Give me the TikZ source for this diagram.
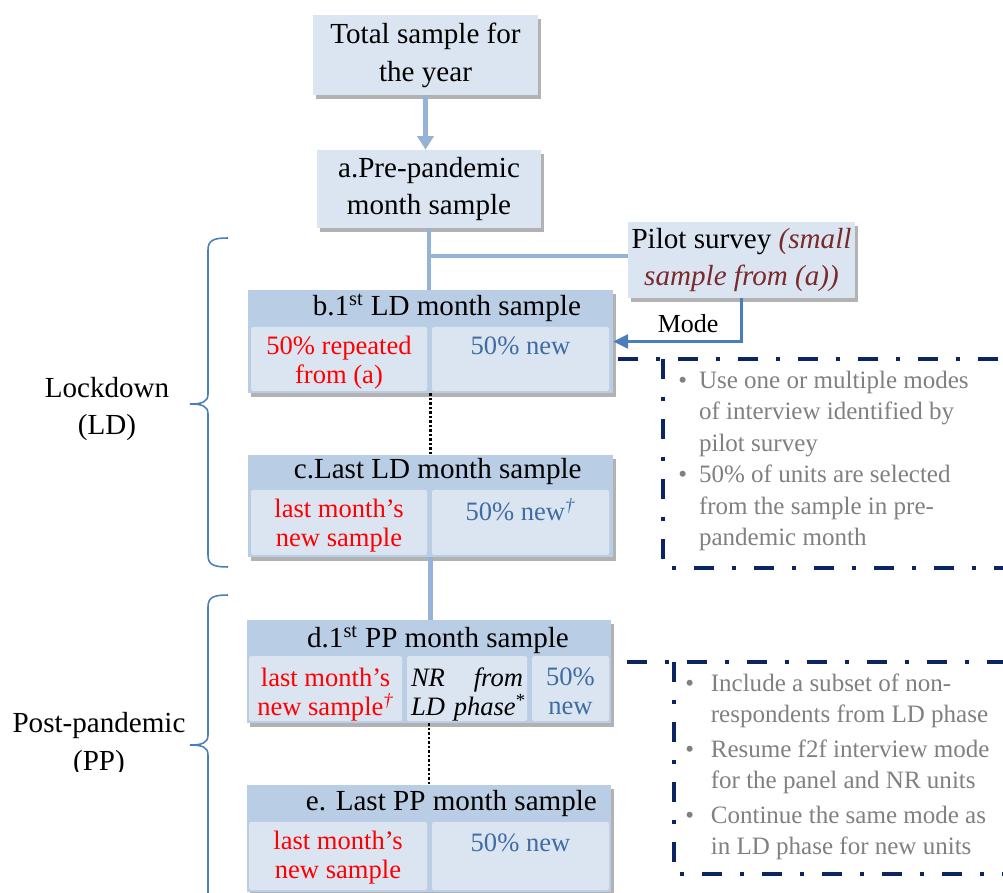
\documentclass[tikz,border=0pt]{standalone}
\usepackage{fontspec}
\setmainfont{Liberation Serif}
\usetikzlibrary{positioning,shadows,arrows.meta}
\definecolor{boxlight}{HTML}{DBE5F1}
\definecolor{boxband}{HTML}{B9CDE5}
\definecolor{linkblue}{HTML}{95B3D7}
\definecolor{modeblue}{HTML}{4A7EBB}
\definecolor{newblue}{HTML}{3F6CA3}
\definecolor{pilotred}{HTML}{7A2A2A}
\definecolor{noteblue}{HTML}{0C2461}
\definecolor{notegray}{HTML}{808080}

\begin{document}
\begin{tikzpicture}

    \tikzstyle{plainbox}=[fill=boxlight,draw=none,align=center,inner sep=0pt,font=\fontsize{20.7}{27}\selectfont,drop shadow={shadow xshift=0.07cm,shadow yshift=-0.09cm,opacity=0.3,fill=black}]
    \tikzstyle{panel}=[fill=boxband,draw=none,inner sep=0pt,minimum width=9.1cm,drop shadow={shadow xshift=0.07cm,shadow yshift=-0.09cm,opacity=0.3,fill=black}]
    \tikzstyle{cell}=[fill=boxlight,draw=none,rounded corners=1.5pt,inner sep=0pt,minimum height=1.6cm]
    \tikzstyle{paneltitle}=[inner sep=0pt,font=\fontsize{20.7}{27}\selectfont]
    \tikzstyle{celltext}=[inner sep=0pt,align=center,font=\fontsize{18.9}{20.6}\selectfont]
    \tikzstyle{linkline}=[draw=linkblue,line width=3.2pt]
    \tikzstyle{dotlink}=[draw=black,line width=1.6pt,dash pattern=on 1.6pt off 1.6pt]
    \tikzstyle{noteline}=[draw=noteblue,line width=3pt,dash pattern=on 0.5cm off 0.44cm on 0.12cm off 0.44cm]
    \tikzstyle{notetext}=[inner sep=0pt,text=notegray,font=\fontsize{17.8}{22.4}\selectfont]
    \tikzstyle{phasebrace}=[draw=modeblue,line width=1.1pt]
    \tikzstyle{phaselabel}=[inner sep=0pt,align=center,font=\fontsize{20.7}{27}\selectfont]

\useasboundingbox (0,0) rectangle (25.075,-22.325);

% main column
\node (tot) [plainbox,minimum width=5.625cm,minimum height=2cm] at (10.6375,-1.375) {Total sample for\\the year};
\node (a) [plainbox,minimum width=5.6cm,minimum height=1.95cm,xshift=0.0875cm,yshift=-3.35cm] at (tot) {a.Pre-pandemic\\month sample};
\node (pilot) [plainbox,minimum width=5.675cm,minimum height=1.9cm,xshift=7.8125cm,yshift=-1.775cm] at (a) {Pilot survey \textcolor{pilotred}{\textit{(small}}\\\textcolor{pilotred}{\textit{sample from (a))}}};

\node (b) [panel,minimum width=9.125cm,minimum height=2.575cm,xshift=0.0375cm,yshift=-3.8125cm] at (a) {};
\node (c) [panel,minimum width=9.125cm,minimum height=2.55cm,yshift=-4.1125cm] at (b) {};
\node (d) [panel,minimum height=2.575cm,xshift=-0.0375cm,yshift=-4.1375cm] at (c) {};
\node (e) [panel,minimum height=2.675cm,yshift=-4.175cm] at (d) {};

% titles
\node (b_t) [paneltitle] at ([xshift=0.41cm,yshift=-0.45cm]b.north) {b.1\textsuperscript{st} LD month sample};
\node (c_t) [paneltitle] at ([xshift=0.18cm,yshift=-0.425cm]c.north) {c.Last LD month sample};
\node (d_t) [paneltitle] at ([xshift=0.225cm,yshift=-0.5cm]d.north) {d.1\textsuperscript{st} PP month sample};
\node (e_t) [paneltitle] at ([xshift=0.56cm,yshift=-0.475cm]e.north) {e. Last PP month sample};

% cells
\node (b_l) [cell,anchor=south west,minimum width=4.4cm,xshift=0.075cm,yshift=0.05cm] at (b.south west) {};
\node (b_r) [cell,anchor=south east,minimum width=4.425cm,xshift=-0.1cm,yshift=0.05cm] at (b.south east) {};
\node (c_l) [cell,anchor=south west,minimum width=4.4cm,minimum height=1.625cm,xshift=0.075cm,yshift=0.05cm] at (c.south west) {};
\node (c_r) [cell,anchor=south east,minimum width=4.425cm,minimum height=1.625cm,xshift=-0.1cm,yshift=0.05cm] at (c.south east) {};
\node (d_l) [cell,anchor=south west,minimum width=3.825cm,minimum height=1.625cm,xshift=0.05cm,yshift=0.05cm] at (d.south west) {};
\node (d_m) [cell,anchor=south west,minimum width=3cm,minimum height=1.625cm,xshift=4cm,yshift=0.05cm] at (d.south west) {};
\node (d_r) [cell,anchor=south east,minimum width=1.925cm,minimum height=1.625cm,xshift=-0.05cm,yshift=0.05cm] at (d.south east) {};
\node (e_l) [cell,anchor=south west,minimum width=4.45cm,minimum height=1.7cm,xshift=0.05cm,yshift=0.05cm] at (e.south west) {};
\node (e_r) [cell,anchor=south east,minimum width=4.425cm,minimum height=1.7cm,xshift=-0.05cm,yshift=0.05cm] at (e.south east) {};

\node (b_lt) [celltext,red,below=0.22cm of b_l.north] {50\% repeated\\from (a)};
\node (b_rt) [celltext,newblue,below=0.25cm of b_r.north] {50\% new};
\node (c_lt) [celltext,red,below=0.22cm of c_l.north] {last month's\\new sample};
\node (c_rt) [celltext,newblue,below=0.22cm of c_r.north] {50\% new\textsuperscript{\textit{\textdagger}}};
\node (d_lt) [celltext,red,below=0.3cm of d_l.north] {last month's\\new sample\textsuperscript{\textit{\textdagger}}};
\node (d_mt) [celltext,align=left,text width=2.8cm,below=0.3cm of d_m.north] {\textit{NR\hfill from}\\\mbox{\textit{LD phase}\textsuperscript{*}}};
\node (d_rt) [celltext,newblue,below=0.3cm of d_r.north] {50\%\\new};
\node (e_lt) [celltext,red,below=0.22cm of e_l.north] {last month's\\new sample};
\node (e_rt) [celltext,newblue,below=0.3cm of e_r.north] {50\% new};

% connectors
\draw[linkline,-{Triangle[width=0.4cm,length=0.34cm]}] (tot.south) -- (tot.south |- a.north);
\draw[linkline] (a.south) -- (a.south |- b.north);
\coordinate (split) at ([yshift=0.1cm]pilot.west);
\draw[linkline] (split) -- (split -| a.south);
\draw[draw=modeblue,line width=1.5pt,-{Triangle[width=0.35cm,length=0.37cm]}] (pilot.south) |- (b.east) node[pos=0.708,above=0.2cm,inner sep=0pt,font=\fontsize{18.5}{22}\selectfont] (mode) {Mode};
\draw[dotlink] (b.south) -- (b.south |- c.north);
\draw[linkline] (c.south) -- (c.south |- d.north);
\draw[dotlink] (d.south) -- (d.south |- e.north);

% phases
\draw[phasebrace] (5.7,-5.95) .. controls (5.35,-5.95) and (5.2,-6.0) .. (5.2,-6.25) -- (5.2,-9.85)
  .. controls (5.2,-10.05) and (5.05,-10.1) .. (4.75,-10.1) .. controls (5.05,-10.1) and (5.2,-10.15) .. (5.2,-10.35)
  -- (5.2,-13.875) .. controls (5.2,-14.125) and (5.35,-14.175) .. (5.7,-14.175);
\draw[phasebrace] (5.7,-14.875) .. controls (5.35,-14.875) and (5.2,-14.925) .. (5.2,-15.175) -- (5.2,-18.375)
  .. controls (5.2,-18.575) and (5.05,-18.625) .. (4.75,-18.625) .. controls (5.05,-18.625) and (5.2,-18.675) .. (5.2,-18.875)
  -- (5.2,-22.4);
\node (ld) [phaselabel] at (2.675,-10.225) {Lockdown\\(LD)};
\begin{scope}
  \clip (0,-17.5) rectangle (5.5,-19.28);
  \node (pp) [phaselabel] at (2.475,-18.62) {Post-pandemic\\(PP)};
\end{scope}

% notes
\draw[noteline] (15.45,-8.975) -- (25.2,-8.975);
\draw[noteline] (16.575,-8.975) -- (16.575,-14.2) -- (25.2,-14.2);
\draw[noteline] (15.675,-16.55) -- (25.2,-16.55);
\draw[noteline] (16.85,-16.55) -- (16.85,-21.85) -- (25.2,-21.85);

\node (n1) [notetext,anchor=north west] at (16.95,-9.15) {\begin{tabular}{@{}l@{\hspace{0.3cm}}l@{}}
\textbullet & Use one or multiple modes\\
 & of interview identified by\\
 & pilot survey\\
\textbullet & 50\% of units are selected\\
 & from the sample in pre-\\
 & pandemic month
\end{tabular}};
\node (n2) [notetext,anchor=north west] at (17.125,-16.725) {\fontsize{17.8}{22.3}\selectfont\begin{tabular}{@{}l@{\hspace{0.42cm}}l@{}}
\textbullet & Include a subset of non-\\
 & respondents from LD phase\\[2.3pt]
\textbullet & Resume f2f interview mode\\
 & for the panel and NR units\\[2.3pt]
\textbullet & Continue the same mode as\\
 & in LD phase for new units
\end{tabular}};

\end{tikzpicture}
\end{document}
